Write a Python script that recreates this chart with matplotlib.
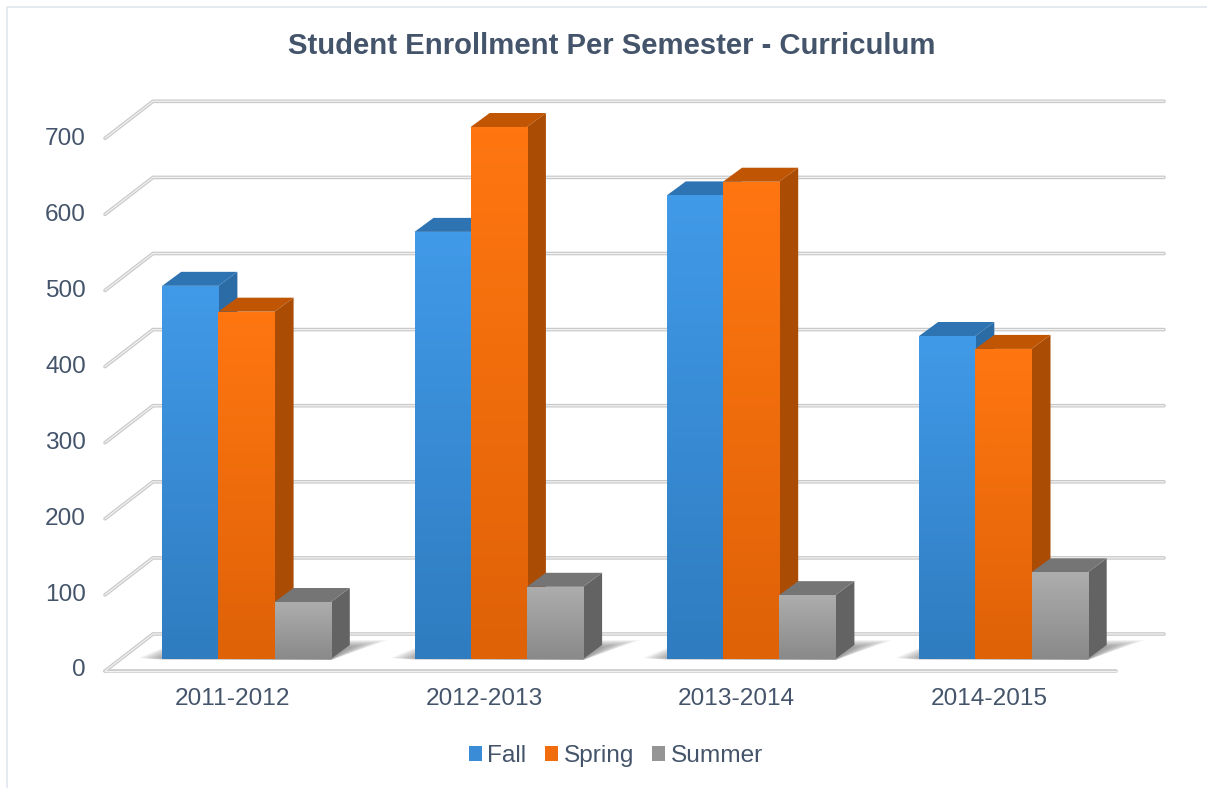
import numpy as np
import matplotlib
matplotlib.use("Agg")
import matplotlib.pyplot as plt
from matplotlib.colors import LinearSegmentedColormap
from matplotlib.patches import Patch, Polygon

plt.rcParams['font.family'] = ['Liberation Sans', 'DejaVu Sans']

categories = ['2011-2012', '2012-2013', '2013-2014', '2014-2015']
fall = [491, 562, 610, 425]
spring = [457, 700, 628, 408]
summer = [75, 95, 84, 114]
series_names = ['Fall', 'Spring', 'Summer']
tick_values = [0, 100, 200, 300, 400, 500, 600, 700]
tick_labels = ['0', '100', '200', '300', '400', '500', '600', '700']

W, H = 1207, 788
TXT = '#44546a'
front_cols = [('#419ae8', '#2f7cc0'), ('#ff7611', '#df6207'), ('#adadad', '#8a8a8a')]
top_cols = ['#2f74b2', '#c05503', '#757575']
side_cols = ['#2b6ba6', '#ab4c05', '#636363']
legend_cols = ['#3a8cd6', '#f06c0c', '#959595']

fig = plt.figure(figsize=(W / 100, H / 100), dpi=100, facecolor='white')
L, R, T, B = 95, 1170, 90, 680
ax = fig.add_axes([L / W, 1 - B / H, (R - L) / W, (B - T) / H])
ax.patch.set_visible(False)
for s in ax.spines.values():
    s.set_visible(False)

# scale: one category = 252.3 px, one value unit = 0.76 px; bar base on y = 0
PX_X, PX_Y = 252.3, 0.76
X0, Y0 = 246.5, 659
px_x = lambda p: (p - X0) / PX_X
px_y = lambda p: (Y0 - p) / PX_Y
ax.set_xlim(px_x(L), px_x(R))
ax.set_ylim(px_y(B), px_y(T))

bw = 56.2 / PX_X
dx, dy = 19 / PX_X, 14 / PX_Y

# walls
for v in tick_values:
    yb = px_y(634 - 0.761 * v)
    yf = px_y(671 - 0.761 * v)
    xs = [px_x(105), px_x(153), px_x(1164)]
    ys = [yf, yb, yb]
    ax.plot(xs, ys, color='#c9c9c9', lw=2.6, zorder=1, solid_capstyle='round', solid_joinstyle='miter')
    ax.plot(xs, ys, color='#f1f1f1', lw=0.9, zorder=1.1, solid_capstyle='round', solid_joinstyle='miter')
ax.plot([px_x(105), px_x(1116)], [px_y(671)] * 2, color='#c9c9c9', lw=2.6, zorder=1, solid_capstyle='round')
ax.plot([px_x(105), px_x(1116)], [px_y(671)] * 2, color='#f1f1f1', lw=0.9, zorder=1.1, solid_capstyle='round')

# the axis labels sit on the front plane, left of the bars
ax.set_yticks([px_y(668 - 0.759 * v) for v in tick_values], labels=tick_labels)
ax.set_xticks([i - 14.5 / PX_X for i in range(len(categories))], labels=categories)
ax.tick_params(axis='both', length=0, labelsize=17.6, labelcolor=TXT)
ax.tick_params(axis='y', pad=6.5)
ax.tick_params(axis='x', pad=5.6)

# floor shadows
for i in range(len(categories)):
    x_l, x_r = i - 1.5 * bw, i + 1.5 * bw
    n = 16
    for k in range(n):
        g = k / (n - 1)
        a, b = (1 - g) * 24 / PX_X, (1 - g) * 38 / PX_X
        top_y = px_y(640 + 7 * g)
        pts = [(x_l - a, px_y(659 - 1 + 2 * g)), (x_r, px_y(660)), (x_r + dx + b, top_y), (x_l + dx, top_y)]
        ax.add_patch(Polygon(pts, closed=True, fc='#505050', ec='none', alpha=0.045, zorder=2))

# bars, left to right so each front covers the side of its neighbour
z = 3.0
for j, vals in enumerate([fall, spring, summer]):
    xs = np.arange(len(categories)) + (j - 1) * bw
    for x, v in zip(xs, vals):
        x_l, x_r = x - bw / 2, x + bw / 2
        side = [(x_r, 0), (x_r + dx, dy), (x_r + dx, v + dy), (x_r, v)]
        top = [(x_l, v), (x_l + dx, v + dy), (x_r + dx, v + dy), (x_r, v)]
        ax.add_patch(Polygon(side, closed=True, fc=side_cols[j], ec='none', zorder=z + j))
        ax.add_patch(Polygon(top, closed=True, fc=top_cols[j], ec='none', zorder=z + j))
    rects = ax.bar(xs, vals, width=bw, color=[front_cols[j][1]], zorder=z + j + 0.1, linewidth=0)
    cmap = LinearSegmentedColormap.from_list('g', [front_cols[j][1], front_cols[j][0]])
    for r, v, x in zip(rects, vals, xs):
        im = ax.imshow(np.linspace(1, 0, 64)[:, None], cmap=cmap, aspect='auto', vmin=0, vmax=1,
                       extent=[x - bw / 2, x + bw / 2, 0, v], zorder=z + j + 0.2, interpolation='bilinear')
        im.set_clip_path(r)
ax.set_xlim(px_x(L), px_x(R))
ax.set_ylim(px_y(B), px_y(T))

# chart frame
fig.add_artist(plt.Line2D([7 / W, 7 / W, 1], [0, 1 - 6.5 / H, 1 - 6.5 / H], color='#e3e8ef', lw=1.3))

fig.text(611.5 / W, 1 - 46 / H, 'Student Enrollment Per Semester - Curriculum', ha='center', va='center',
         fontsize=21.1, fontweight='bold', color=TXT)

handles = [Patch(fc=c, ec='none') for c in legend_cols]
fig.legend(handles, series_names, loc='center', bbox_to_anchor=(616 / W, 1 - 756 / H), ncol=3, frameon=False,
           fontsize=17.6, labelcolor=TXT, handlelength=0.53, handleheight=0.53, handletextpad=0.22,
           columnspacing=0.76)

fig.savefig('out.png', dpi=100)
